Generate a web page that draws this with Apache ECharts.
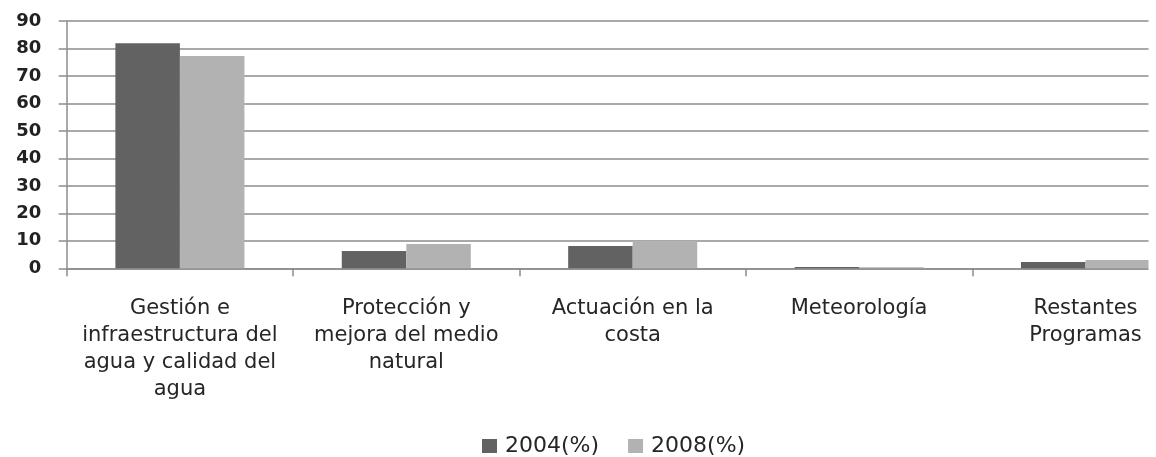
<!DOCTYPE html>
<html>
<head>
<meta charset="utf-8">
<script src="https://cdn.jsdelivr.net/npm/echarts@6/dist/echarts.min.js"></script>
<style>
html,body{margin:0;padding:0;background:#fff;}
#chart{width:1156px;height:457px;}
</style>
</head>
<body>
<div id="chart"></div>
<script>
var categories = [
  "Gestión e\ninfraestructura del\nagua y calidad del\nagua",
  "Protección y\nmejora del medio\nnatural",
  "Actuación en la\ncosta",
  "Meteorología",
  "Restantes\nProgramas"
];
var seriesNames = ["2004(%)", "2008(%)"];
var values2004 = [81.9, 6.3, 8.1, 0.5, 2.3];
var values2008 = [77.3, 8.8, 9.9, 0.4, 3.0];
var yTicks = { min: 0, max: 90, interval: 10 };

var chart = echarts.init(document.getElementById('chart'), null, { renderer: 'canvas' });
var axisGray = '#8c8c8c';
var font = 'DejaVu Sans';
chart.setOption({
  animation: false,
  backgroundColor: '#ffffff',
  grid: { left: 66.7, top: 21, width: 1132, height: 247.3, containLabel: false, outerBoundsMode: 'none' },
  legend: {
    data: seriesNames,
    left: 482,
    top: 435,
    padding: 0,
    itemWidth: 15,
    itemHeight: 14,
    itemGap: 29,
    icon: 'rect',
    textStyle: { fontFamily: font, fontSize: 22, color: '#262626', padding: [0, 0, 0, 3] }
  },
  xAxis: {
    type: 'category',
    data: categories,
    axisLine: { show: true, lineStyle: { color: axisGray, width: 1.5 } },
    axisTick: { show: true, length: 8, interval: 0, alignWithLabel: false, lineStyle: { color: axisGray, width: 1.5 } },
    axisLabel: { interval: 0, margin: 27, fontFamily: font, fontSize: 21, lineHeight: 27, color: '#262626', align: 'center' },
    splitLine: { show: false }
  },
  yAxis: {
    type: 'value',
    min: yTicks.min,
    max: yTicks.max,
    interval: yTicks.interval,
    axisLine: { show: true, lineStyle: { color: axisGray, width: 1.5 } },
    axisTick: { show: true, length: 8, lineStyle: { color: axisGray, width: 1.5 } },
    axisLabel: { margin: 25.5, fontFamily: font, fontSize: 18, fontWeight: 'bold', color: '#222' },
    splitLine: { show: true, lineStyle: { color: axisGray, width: 1.5 } }
  },
  graphic: [
    { type: 'rect', left: 1148.5, top: 0, z: 100, shape: { width: 20, height: 290 }, style: { fill: '#ffffff' } }
  ],
  series: [
    { name: seriesNames[0], type: 'bar', data: values2004, barGap: '0%', barCategoryGap: '43%',
      itemStyle: { color: '#626262' } },
    { name: seriesNames[1], type: 'bar', data: values2008, barGap: '0%', barCategoryGap: '43%',
      itemStyle: { color: '#b2b2b2' } }
  ]
});
</script>
</body>
</html>
